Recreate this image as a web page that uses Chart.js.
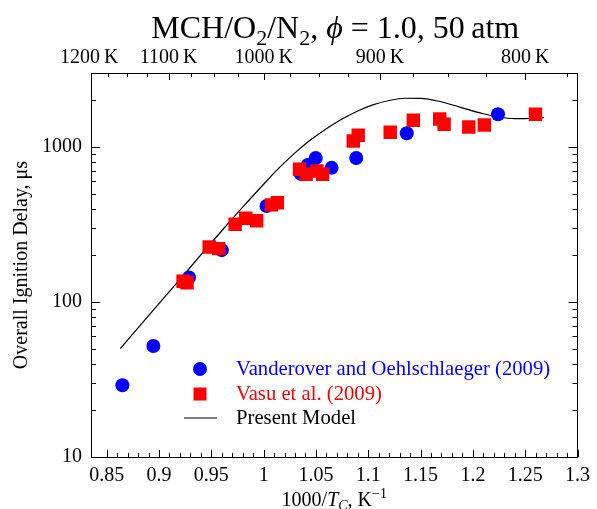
<!DOCTYPE html>
<html><head><meta charset="utf-8">
<script src="https://cdn.jsdelivr.net/npm/chart.js@4"></script>
<style>html,body{margin:0;padding:0;background:#fff;}</style>
</head><body>
<canvas id="c" width="597" height="509" style="display:block;width:597px;height:509px"></canvas>
<script>
// ---- data ----
const vanderoverX = [0.865, 0.8946, 0.9287, 0.960, 1.0028, 1.0356, 1.0422, 1.0498, 1.065, 1.0885, 1.1368, 1.224];
const vanderoverY = [29, 52, 144, 216, 416, 670, 765, 849, 733, 849, 1225, 1626];
const vasuX = [0.923, 0.9268, 0.948, 0.957, 0.9728, 0.9829, 0.9933, 1.0075, 1.0131, 1.0343, 1.0406, 1.051, 1.0564, 1.0857, 1.0904, 1.121, 1.1431, 1.1683, 1.1725, 1.1961, 1.2109, 1.2598];
const vasuY = [136, 133, 226, 221, 317, 347, 334, 423, 437, 718, 667, 700, 667, 1094, 1190, 1244, 1486, 1516, 1400, 1346, 1387, 1626];
const modelX = [0.863, 0.88, 0.90, 0.92, 0.94, 0.96, 0.98, 1.00, 1.015, 1.03, 1.045, 1.06, 1.075, 1.09, 1.105, 1.12, 1.135, 1.15, 1.165, 1.18, 1.195, 1.21, 1.225, 1.24, 1.255, 1.268];
const modelY = [50, 68.1, 97.7, 140, 201, 288, 409, 575, 735, 916, 1112, 1312, 1514, 1706, 1875, 1995, 2061, 2056, 1986, 1871, 1746, 1637, 1560, 1524, 1528, 1549];
const xTickValues = [0.85, 0.9, 0.95, 1, 1.05, 1.1, 1.15, 1.2, 1.25, 1.3];
const yTickValues = [10, 100, 1000];
const topTempLabels = [1200, 1100, 1000, 900, 800];
const topMinorTemps = [1175, 1150, 1125, 1075, 1050, 1025, 975, 950, 925, 875, 850, 825, 775];
const seriesNames = ['Vanderover and Oehlschlaeger (2009)', 'Vasu et al. (2009)', 'Present Model'];

const FONT = 'Liberation Serif';
const xMin = 0.835, xMax = 1.3, yMin = 10, yMax = 3000;

const pts = (xs, ys) => xs.map((x, i) => ({x, y: ys[i]}));

function drawRich(ctx, segs, cx, baseline, size) {
  const fontFor = s => `${s.italic ? 'italic ' : ''}${(s.sub || s.sup) ? Math.round(size * 0.7) : size}px "${FONT}"`;
  let total = 0;
  segs.forEach(s => { ctx.font = fontFor(s); s.w = ctx.measureText(s.t).width; total += s.w; });
  let x = cx - total / 2;
  ctx.textAlign = 'left'; ctx.textBaseline = 'alphabetic';
  segs.forEach(s => {
    ctx.font = fontFor(s);
    const dy = s.sub ? size * 0.22 : (s.sup ? -size * 0.38 : 0);
    ctx.fillText(s.t, x, baseline + dy);
    x += s.w;
  });
}

const decor = {
  id: 'decor',
  afterDraw(chart) {
    const ctx = chart.ctx, a = chart.chartArea;
    const sx = chart.scales.x, sy = chart.scales.y;
    ctx.save();
    ctx.strokeStyle = '#000'; ctx.lineWidth = 1; ctx.fillStyle = '#000';
    const vtick = (px, len, fromTop) => {
      const X = Math.round(px) + 0.5;
      ctx.beginPath();
      if (fromTop) { ctx.moveTo(X, a.top); ctx.lineTo(X, a.top + len); }
      else { ctx.moveTo(X, a.bottom); ctx.lineTo(X, a.bottom - len); }
      ctx.stroke();
    };
    const htick = (py, len) => {
      const Y = Math.round(py) + 0.5;
      ctx.beginPath();
      ctx.moveTo(a.left, Y); ctx.lineTo(a.left + len, Y);
      ctx.moveTo(a.right, Y); ctx.lineTo(a.right - len, Y);
      ctx.stroke();
    };
    for (let k = 85; k <= 130; k++) {
      vtick(sx.getPixelForValue(k / 100), (k % 5 === 0) ? 7 : 4, false);
    }
    topTempLabels.forEach(T => { const p = sx.getPixelForValue(1000 / T); if (p >= a.left) vtick(p, 7, true); });
    topMinorTemps.forEach(T => vtick(sx.getPixelForValue(1000 / T), 4, true));
    for (let d = 10; d <= 1000; d *= 10) {
      for (let m = 1; m <= 9; m++) {
        const v = d * m;
        if (v > yMax) continue;
        htick(sy.getPixelForValue(v), m === 1 ? 9 : 5);
      }
    }
    ctx.fillStyle = '#000';
    const cx = (a.left + a.right) / 2;
    drawRich(ctx, [
      {t: 'MCH/O'}, {t: '2', sub: true}, {t: '/N'}, {t: '2', sub: true},
      {t: ', '}, {t: '\u03D5', italic: true}, {t: ' = 1.0, 50\u2009atm'}
    ], cx + 1, 38, 32);
    drawRich(ctx, [
      {t: '1000/'}, {t: 'T', italic: true}, {t: 'C', italic: true, sub: true},
      {t: ', K'}, {t: '\u22121', sup: true}
    ], cx, 506, 20);
    ctx.save();
    ctx.translate(22, (a.top + a.bottom) / 2);
    ctx.rotate(-Math.PI / 2);
    ctx.font = `20px "${FONT}"`;
    ctx.textAlign = 'center'; ctx.textBaseline = 'middle';
    ctx.fillText('Overall Ignition Delay, \u03BCs', 0, 0);
    ctx.restore();
    // legend
    const lx = a.left + 109, tx = a.left + 145;
    const rows = [a.top + 296, a.top + 321, a.top + 345];
    const ds = chart.data.datasets;
    ctx.fillStyle = ds[0].backgroundColor;
    ctx.beginPath(); ctx.arc(lx, rows[0], 7, 0, Math.PI * 2); ctx.fill();
    ctx.fillStyle = ds[1].backgroundColor;
    ctx.fillRect(lx - 6.5, rows[1] - 6.5, 13, 13);
    ctx.strokeStyle = '#000'; ctx.lineWidth = 1.2;
    ctx.beginPath(); ctx.moveTo(lx - 16, rows[2]); ctx.lineTo(lx + 17, rows[2]); ctx.stroke();
    ctx.font = `20.7px "${FONT}"`;
    ctx.textAlign = 'left'; ctx.textBaseline = 'middle';
    const cols = ['#0000ff', '#ff0000', '#000000'];
    seriesNames.forEach((n, i) => { ctx.fillStyle = cols[i]; ctx.fillText(n, tx, rows[i] + 1); });
    ctx.restore();
  }
};

const tickFont = {family: FONT, size: 20};
new Chart(document.getElementById('c'), {
  type: 'scatter',
  data: {
    datasets: [
      {label: seriesNames[0], data: pts(vanderoverX, vanderoverY), backgroundColor: '#0000ff', borderColor: '#0000ff',
       pointStyle: 'circle', pointRadius: 7, pointBorderWidth: 0, order: 1},
      {label: seriesNames[1], data: pts(vasuX, vasuY), backgroundColor: '#ff0000', borderColor: '#ff0000',
       pointStyle: 'rect', pointRadius: 9.5, pointBorderWidth: 0, order: 0},
      {label: seriesNames[2], type: 'line', data: pts(modelX, modelY), borderColor: '#000', borderWidth: 1.2,
       pointRadius: 0, showLine: true, cubicInterpolationMode: 'monotone', fill: false, order: 2}
    ]
  },
  options: {
    responsive: false, animation: false, devicePixelRatio: 1,
    layout: {padding: 0},
    plugins: {legend: {display: false}, tooltip: {enabled: false}, title: {display: false}},
    scales: {
      x: {
        type: 'linear', position: 'bottom', min: xMin, max: xMax,
        afterBuildTicks: s => { s.ticks = xTickValues.map(v => ({value: v})); },
        afterFit: s => { s.height = 52; },
        grid: {display: false, drawTicks: false},
        border: {display: true, color: '#000', width: 1},
        ticks: {font: tickFont, color: '#000', padding: 7, autoSkip: false, maxRotation: 0,
                callback: v => String(Number(v.toFixed(2)))}
      },
      xTop: {
        type: 'linear', position: 'top', min: xMin, max: xMax,
        afterBuildTicks: s => { s.ticks = topTempLabels.map(T => ({value: 1000 / T})); },
        afterFit: s => { s.height = 73; },
        grid: {display: false, drawTicks: false},
        border: {display: true, color: '#000', width: 1},
        ticks: {font: tickFont, color: '#000', padding: 3, autoSkip: false, maxRotation: 0,
                callback: (v, i) => topTempLabels[i] + '\u2009K'}
      },
      y: {
        type: 'logarithmic', position: 'left', min: yMin, max: yMax,
        afterBuildTicks: s => { s.ticks = yTickValues.map(v => ({value: v})); },
        afterFit: s => { s.width = 91; },
        grid: {display: false, drawTicks: false},
        border: {display: true, color: '#000', width: 1},
        ticks: {font: tickFont, color: '#000', padding: 9, autoSkip: false, callback: v => String(v)}
      },
      yRight: {
        type: 'logarithmic', position: 'right', min: yMin, max: yMax,
        afterFit: s => { s.width = 14; },
        grid: {display: false, drawTicks: false},
        border: {display: true, color: '#000', width: 1},
        ticks: {display: false}
      }
    }
  },
  plugins: [decor]
});
</script>
</body></html>
